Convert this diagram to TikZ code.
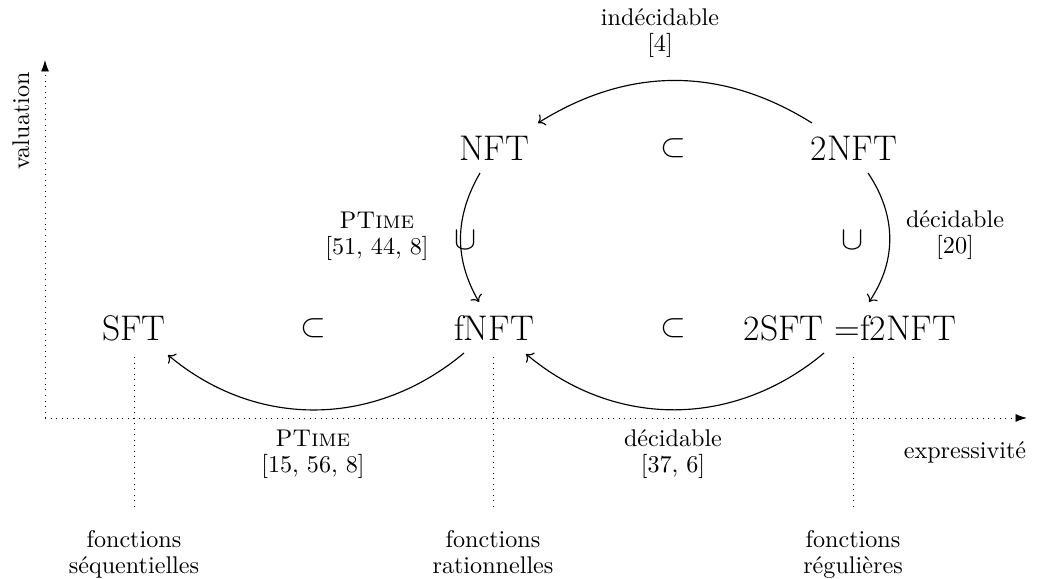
\documentclass[tikz,border=0pt]{standalone}
\usetikzlibrary{arrows.meta,calc}
\begin{document}
\begin{tikzpicture}[x=0.435pt,y=0.435pt,
  big/.style={font=\fontsize{15.5}{18}\selectfont, inner sep=2pt},
  small/.style={font=\fontsize{10.5}{11.2}\selectfont, align=center, inner sep=1pt},
  axis/.style={dotted, line width=0.4pt, -{Latex[length=5pt,width=3.5pt]}},
  guide/.style={dotted, line width=0.4pt},
  arr/.style={->, line width=0.5pt}]
\useasboundingbox (0,0) rectangle (1039,579);
% axes
\coordinate (O) at (45,161);
\coordinate (X) at (1027,161);
\coordinate (Y) at (45,519);
\draw[axis] (O) -- (X);
\draw[axis] (O) -- (Y);
\node[small, rotate=90] (val) at (21,458) {valuation};
\node[small] (expr) at (965,127) {expressivit\'e};
% main nodes
\node[big] (NFT) at (494,431) {NFT};
\node[big] (2NFT) at (854,431) {2NFT};
\node[big] (SFT) at (134,251) {SFT};
\node[big] (fNFT) at (494,251) {fNFT};
\node[big] (2SFT) at (850,251) {2SFT =f2NFT};
\node[big] (s1) at (673,431) {$\subset$};
\node[big] (s2) at (313,251) {$\subset$};
\node[big] (s3) at (673,251) {$\subset$};
\node[big] (c1) at (466,339) {$\cup$};
\node[big] (c2) at (853,339) {$\cup$};
% guides
\coordinate (g1t) at (134,222); \coordinate (g1b) at (134,69);
\coordinate (g2t) at (493,222); \coordinate (g2b) at (493,69);
\coordinate (g3t) at (853,222); \coordinate (g3b) at (853,69);
\draw[guide] (g1t) -- (g1b);
\draw[guide] (g2t) -- (g2b);
\draw[guide] (g3t) -- (g3b);
\node[small, anchor=north] (fs) at (134,51) {fonctions\\s\'equentielles};
\node[small, anchor=north] (fr) at (493,51) {fonctions\\rationnelles};
\node[small, anchor=north] (fg) at (853,51) {fonctions\\r\'eguli\`eres};
% arrows
\draw[arr] ($(2NFT)+(-42,25)$) to[out=148,in=32] ($(NFT)+(44,25)$);
\draw[arr] ($(NFT)+(-14,-25)$) to[out=240,in=120] ($(fNFT)+(-15,26)$);
\draw[arr] ($(2NFT)+(14,-25)$) to[out=-56,in=56] ($(2SFT)+(19,26)$);
\draw[arr] ($(fNFT)+(-30,-25)$) to[out=220,in=-40] ($(SFT)+(34,-27)$);
\draw[arr] ($(2SFT)+(-26,-25)$) to[out=220,in=-40] ($(fNFT)+(32,-26)$);
% labels
\node[small] (l1) at (660,546) {ind\'ecidable\\{[4]}};
\node[small] (l2) at (377,343) {P\textsc{Time}\\{[51, 44, 8]}};
\node[small] (l3) at (955,344) {d\'ecidable\\{[20]}};
\node[small] (l4) at (313,125) {P\textsc{Time}\\{[15, 56, 8]}};
\node[small] (l5) at (673,125) {d\'ecidable\\{[37, 6]}};
\end{tikzpicture}
\end{document}
